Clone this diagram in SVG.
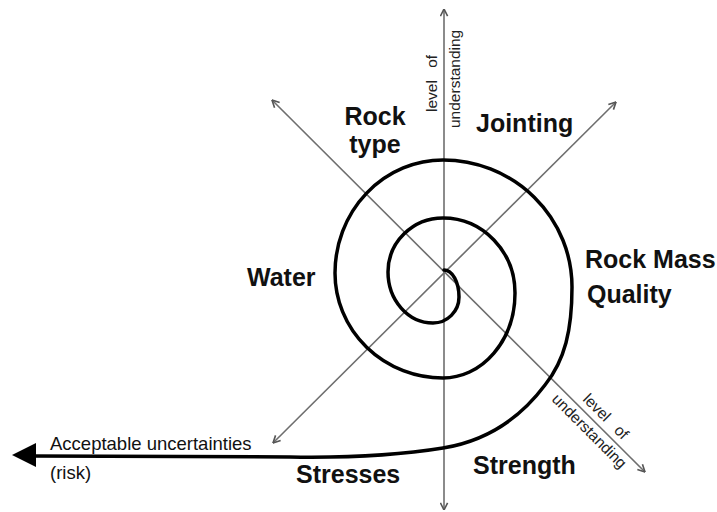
<svg xmlns="http://www.w3.org/2000/svg" width="717" height="512" viewBox="0 0 717 512">
  <style>
    .axis { stroke: #6e6e6e; stroke-width: 1.6; fill: none; }
    .spiral { stroke: #000; stroke-width: 3.5; fill: none; stroke-linecap: round; }
    .lbl { font-family: "Liberation Sans", Arial, sans-serif; font-weight: bold; font-size: 25px; fill: #111; }
    .small { font-family: "Liberation Sans", Arial, sans-serif; font-size: 18.5px; fill: #111; }
    .axl { font-family: "Liberation Sans", Arial, sans-serif; font-size: 15.5px; fill: #222; }
  </style>
  <defs>
    <marker id="ah" viewBox="0 0 10 10" refX="9.5" refY="5" markerWidth="9" markerHeight="9" markerUnits="userSpaceOnUse" orient="auto-start-reverse">
      <path d="M1.5,1 L9.5,5 L1.5,9" fill="none" stroke="#555" stroke-width="1.8"/>
    </marker>
  </defs>
  <rect width="717" height="512" fill="#fff"/>

  <g id="connectors">
    <line class="axis" x1="444" y1="510" x2="444" y2="9" marker-start="url(#ah)" marker-end="url(#ah)"/>
    <line class="axis" x1="645" y1="472" x2="272" y2="100" marker-start="url(#ah)" marker-end="url(#ah)"/>
    <line class="axis" x1="273" y1="443" x2="616" y2="102" marker-start="url(#ah)" marker-end="url(#ah)"/>
    <path id="spiral" class="spiral" d="M444,270 A15,27 0 0 1 459,297 A26,26 0 0 1 433,323 A45,51 0 0 1 388,272 A55,54 0 0 1 443,218 A72,75 0 0 1 515,293 A72,85 0 0 1 443,378 A108,105 0 0 1 335,273 A108,113 0 0 1 443,160 A129,127 0 0 1 572,287 C572,330 565,360 545,385 C515,425 480,442 443,448 C400,455 350,458 290,457 L32,456"/>
    <polygon points="12,455 36,443 36,467" fill="#000"/>
  </g>

  <g id="axis-labels">
    <text class="axl" transform="translate(437,112) rotate(-90)" word-spacing="8">level of</text>
    <text class="axl" transform="translate(460,128) rotate(-90)">understanding</text>
    <text class="axl" transform="translate(582,400) rotate(45)" word-spacing="8">level of</text>
    <text class="axl" transform="translate(551,400) rotate(45)">understanding</text>
  </g>

  <g id="rock-type"><text class="lbl" x="375" y="125" text-anchor="middle">Rock</text><text class="lbl" x="375" y="153" text-anchor="middle">type</text></g>
  <g id="jointing"><text class="lbl" x="476" y="132">Jointing</text></g>
  <g id="rock-mass-quality"><text class="lbl" x="585" y="268">Rock Mass</text><text class="lbl" x="587" y="303">Quality</text></g>
  <g id="water"><text class="lbl" x="247" y="286">Water</text></g>
  <g id="stresses"><text class="lbl" x="296" y="483">Stresses</text></g>
  <g id="strength"><text class="lbl" x="473" y="474">Strength</text></g>
  <g id="acceptable"><text class="small" x="50" y="450">Acceptable uncertainties</text><text class="small" x="50" y="479">(risk)</text></g>
</svg>
